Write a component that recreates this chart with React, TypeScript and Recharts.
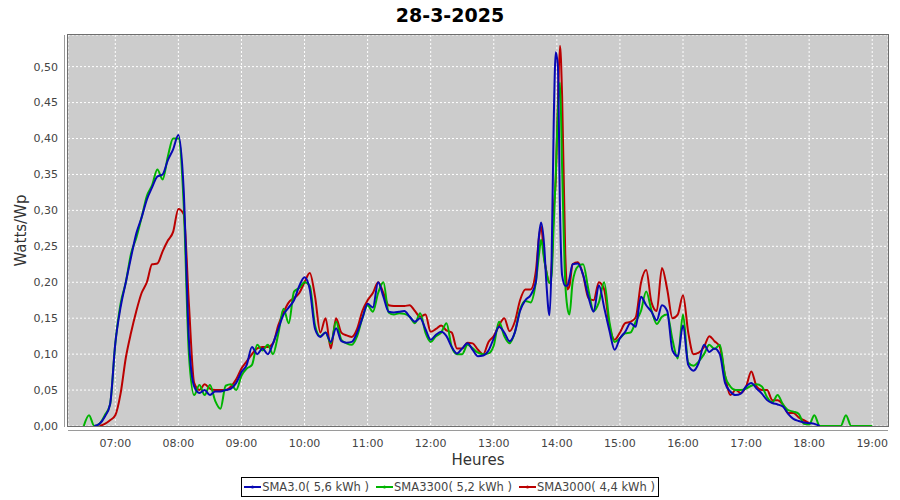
import React from 'react';
import { LineChart, Line, XAxis, YAxis, CartesianGrid, Legend } from 'recharts';

const TITLE = '28-3-2025';
const X_LABEL = 'Heures';
const Y_LABEL = 'Watts/Wp';

const TIMES: string[] = [
  '06:30', '06:35', '06:40', '06:45', '06:50', '06:55',
  '07:00', '07:05', '07:10', '07:15', '07:20', '07:25', '07:30', '07:35', '07:40', '07:45', '07:50', '07:55',
  '08:00', '08:05', '08:10', '08:15', '08:20', '08:25', '08:30', '08:35', '08:40', '08:45', '08:50', '08:55',
  '09:00', '09:05', '09:10', '09:15', '09:20', '09:25', '09:30', '09:35', '09:40', '09:45', '09:50', '09:55',
  '10:00', '10:05', '10:10', '10:15', '10:20', '10:25', '10:30', '10:35', '10:40', '10:45', '10:50', '10:55',
  '11:00', '11:05', '11:10', '11:15', '11:20', '11:25', '11:30', '11:35', '11:40', '11:45', '11:50', '11:55',
  '12:00', '12:05', '12:10', '12:15', '12:20', '12:25', '12:30', '12:35', '12:40', '12:45', '12:50', '12:55',
  '13:00', '13:05', '13:10', '13:15', '13:20', '13:25', '13:30', '13:35', '13:40', '13:43', '13:45', '13:48', '13:50', '13:53', '13:55', '13:57', '13:59',
  '14:01', '14:03', '14:05', '14:08', '14:10', '14:12', '14:15', '14:20', '14:25', '14:30', '14:35', '14:40', '14:45', '14:50', '14:55',
  '15:00', '15:05', '15:10', '15:15', '15:20', '15:25', '15:30', '15:35', '15:40', '15:45', '15:50', '15:55',
  '16:00', '16:05', '16:10', '16:15', '16:20', '16:25', '16:30', '16:35', '16:40', '16:45', '16:50', '16:55',
  '17:00', '17:05', '17:10', '17:15', '17:20', '17:25', '17:30', '17:35', '17:40', '17:45', '17:50', '17:55',
  '18:00', '18:05', '18:10', '18:15', '18:20', '18:25', '18:30', '18:35', '18:40', '18:45', '18:50', '18:55',
  '19:00',
];

const SMA30: (number | null)[] = [
  null, null, 0, 0.003, 0.013, 0.03,
  0.115, 0.165, 0.2, 0.235, 0.268, 0.29, 0.315, 0.332, 0.347, 0.35, 0.37, 0.385,
  0.405, 0.33, 0.12, 0.055, 0.046, 0.05, 0.043, 0.048, 0.048, 0.05, 0.052, 0.06,
  0.075, 0.085, 0.11, 0.1, 0.108, 0.1, 0.115, 0.135, 0.155, 0.165, 0.175, 0.195,
  0.207, 0.19, 0.135, 0.124, 0.13, 0.117, 0.136, 0.118, 0.116, 0.117, 0.13, 0.15,
  0.17, 0.165, 0.2, 0.18, 0.159, 0.158, 0.159, 0.16, 0.152, 0.145, 0.15, 0.135,
  0.12, 0.127, 0.131, 0.125, 0.11, 0.101, 0.108, 0.115, 0.106, 0.097, 0.098, 0.105,
  0.122, 0.138, 0.13, 0.118, 0.13, 0.16, 0.175, 0.182, 0.2, 0.265, 0.283, 0.25, 0.2, 0.154, 0.23, 0.42, 0.52,
  0.5, 0.3, 0.21, 0.195, 0.195, 0.205, 0.225, 0.226, 0.21, 0.18, 0.159, 0.196, 0.165, 0.133, 0.106,
  0.122, 0.131, 0.143, 0.138, 0.18, 0.168, 0.159, 0.147, 0.168, 0.16, 0.105, 0.097,
  0.14, 0.085, 0.077, 0.088, 0.113, 0.103, 0.108, 0.1, 0.06, 0.048, 0.043, 0.045,
  0.055, 0.06, 0.052, 0.045, 0.036, 0.032, 0.03, 0.027, 0.017, 0.01, 0.007, 0.005,
  0.004, 0.003, 0, null, null, null, null, null, null, null, null, null,
  null,
];

const SMA3300: (number | null)[] = [
  0, 0.015, 0, 0.003, 0.015, 0.03,
  0.115, 0.17, 0.2, 0.24, 0.262, 0.29, 0.32, 0.335, 0.357, 0.343, 0.375, 0.4,
  0.4, 0.31, 0.1, 0.043, 0.057, 0.043, 0.057, 0.035, 0.024, 0.056, 0.058, 0.05,
  0.07, 0.08, 0.085, 0.113, 0.105, 0.113, 0.1, 0.128, 0.163, 0.143, 0.187, 0.192,
  0.2, 0.195, 0.14, 0.125, 0.13, 0.115, 0.145, 0.12, 0.115, 0.113, 0.125, 0.15,
  0.168, 0.159, 0.185, 0.2, 0.158, 0.155, 0.157, 0.156, 0.152, 0.143, 0.157, 0.13,
  0.117, 0.125, 0.13, 0.143, 0.11, 0.1, 0.1, 0.113, 0.108, 0.102, 0.1, 0.101,
  0.112, 0.145, 0.125, 0.115, 0.13, 0.162, 0.174, 0.172, 0.2, 0.238, 0.259, 0.231, 0.215, 0.199, 0.21, 0.28, 0.35,
  0.44, 0.478, 0.36, 0.2, 0.165, 0.155, 0.2, 0.222, 0.225, 0.19, 0.16, 0.172, 0.2, 0.145, 0.117,
  0.122, 0.129, 0.13, 0.145, 0.16, 0.187, 0.161, 0.142, 0.152, 0.155, 0.12, 0.094,
  0.155, 0.088, 0.084, 0.09, 0.1, 0.113, 0.107, 0.113, 0.07, 0.055, 0.05, 0.05,
  0.052, 0.056, 0.058, 0.055, 0.04, 0.033, 0.043, 0.03, 0.022, 0.02, 0.017, 0.003,
  0.002, 0.015, 0, 0, 0, 0, 0, 0.015, 0, 0, 0, 0,
  0,
];

const SMA3000: (number | null)[] = [
  null, null, null, 0, 0.003, 0.008,
  0.015, 0.045, 0.095, 0.13, 0.16, 0.185, 0.2, 0.225, 0.226, 0.243, 0.258, 0.27,
  0.302, 0.295, 0.17, 0.06, 0.05, 0.058, 0.052, 0.05, 0.05, 0.05, 0.055, 0.065,
  0.08, 0.09, 0.1, 0.108, 0.11, 0.11, 0.115, 0.14, 0.158, 0.172, 0.178, 0.185,
  0.2, 0.213, 0.18, 0.13, 0.15, 0.108, 0.15, 0.13, 0.126, 0.124, 0.135, 0.16,
  0.175, 0.185, 0.2, 0.185, 0.168, 0.167, 0.167, 0.167, 0.168, 0.16, 0.152, 0.155,
  0.131, 0.135, 0.14, 0.133, 0.13, 0.108, 0.108, 0.116, 0.115, 0.106, 0.1, 0.117,
  0.125, 0.14, 0.15, 0.132, 0.145, 0.175, 0.19, 0.19, 0.215, 0.262, 0.278, 0.234, 0.215, 0.199, 0.22, 0.3, 0.343,
  0.45, 0.529, 0.46, 0.24, 0.19, 0.195, 0.225, 0.228, 0.21, 0.178, 0.175, 0.2, 0.19, 0.14, 0.12,
  0.13, 0.143, 0.145, 0.151, 0.199, 0.217, 0.172, 0.16, 0.22, 0.19, 0.15, 0.155,
  0.182, 0.13, 0.1, 0.102, 0.11, 0.125, 0.118, 0.11, 0.07, 0.043, 0.05, 0.046,
  0.055, 0.076, 0.055, 0.05, 0.05, 0.036, 0.036, 0.03, 0.018, 0.018, 0.012, 0.008,
  0.004, null, null, null, null, null, null, null, null, null, null, null,
  null,
];

const X_TICKS: string[] = ['07:00', '08:00', '09:00', '10:00', '11:00', '12:00', '13:00', '14:00', '15:00', '16:00', '17:00', '18:00', '19:00'];
const Y_TICKS: number[] = [0, 0.05, 0.1, 0.15, 0.2, 0.25, 0.3, 0.35, 0.4, 0.45, 0.5];
const X_DOMAIN: [number, number] = [375, 1155];
const Y_DOMAIN: [number, number] = [0, 0.544];

const SERIES = [
  { key: 'sma30', name: 'SMA3.0( 5,6 kWh )', color: '#0808b4' },
  { key: 'sma3300', name: 'SMA3300( 5,2 kWh )', color: '#00b400' },
  { key: 'sma3000', name: 'SMA3000( 4,4 kWh )', color: '#bb0000' },
];

const toMin = (s: string) => {
  const [h, m] = s.split(':').map(Number);
  return h * 60 + m;
};
const fmtTime = (v: number) => {
  const h = Math.floor(v / 60);
  const m = Math.round(v % 60);
  return `${String(h).padStart(2, '0')}:${String(m).padStart(2, '0')}`;
};

const data = TIMES.map((t, i) => ({
  t: toMin(t),
  sma30: SMA30[i],
  sma3300: SMA3300[i],
  sma3000: SMA3000[i],
}));

const FONT = '"DejaVu Sans", Verdana, sans-serif';

const renderLegend = () => (
  <div style={{ display: 'flex', justifyContent: 'center', fontFamily: FONT }}>
    <div
      style={{
        display: 'inline-flex',
        alignItems: 'center',
        border: '1px solid #000',
        background: '#fff',
        height: 20,
        padding: '0 3px 0 2px',
        boxSizing: 'border-box',
        fontSize: 11.5,
        color: '#444',
        whiteSpace: 'nowrap',
      }}
    >
      {SERIES.map((s, i) => (
        <span key={s.key} style={{ display: 'inline-flex', alignItems: 'center', marginLeft: i === 0 ? 0 : 7 }}>
          <svg width={17} height={6} style={{ display: 'block' }}>
            <line x1={0} y1={3} x2={17} y2={3} stroke={s.color} strokeWidth={2} />
            <circle cx={8.5} cy={3} r={1.5} fill={s.color} />
          </svg>
          <span style={{ marginLeft: 1 }}>{s.name}</span>
        </span>
      ))}
    </div>
  </div>
);

const renderXLabel = (p: any) => {
  const vb = p.viewBox || { x: 68, y: 426, width: 820, height: 30 };
  return (
    <text x={vb.x + vb.width / 2} y={465} textAnchor="middle" fontSize={15} fill="#333" fontFamily={FONT}>
      {X_LABEL}
    </text>
  );
};

const renderYLabel = (p: any) => {
  const vb = p.viewBox || { x: 0, y: 35, width: 68, height: 391 };
  const cy = vb.y + vb.height / 2;
  return (
    <text x={26} y={cy} transform={`rotate(-90, 26, ${cy})`} textAnchor="middle" fontSize={15} fill="#333" fontFamily={FONT}>
      {Y_LABEL}
    </text>
  );
};

export default function App() {
  const drawOrder = [...SERIES].reverse();
  return (
    <div style={{ position: 'absolute', left: 0, top: 0, width: 900, height: 500, background: '#fff', fontFamily: FONT }}>
      <div
        style={{
          position: 'absolute',
          top: 3,
          left: 0,
          width: 900,
          textAlign: 'center',
          fontSize: 19,
          fontWeight: 'bold',
          lineHeight: '24px',
          color: '#000',
        }}
      >
        {TITLE}
      </div>
      <div style={{ position: 'absolute', left: 0, top: 0 }}>
        <LineChart width={900} height={500} data={data} margin={{ top: 35, right: 12, bottom: 44, left: 0 }}>
          <CartesianGrid fill="#cccccc" stroke="#ffffff" strokeDasharray="2 2" strokeWidth={1} />
          <XAxis
            dataKey="t"
            type="number"
            domain={X_DOMAIN}
            allowDataOverflow
            ticks={X_TICKS.map(toMin)}
            tickFormatter={fmtTime}
            axisLine={false}
            tickLine={false}
            tickSize={6}
            tickMargin={7}
            height={30}
            tick={{ fill: '#444', fontSize: 11, fontFamily: FONT }}
            label={renderXLabel}
          />
          <YAxis
            type="number"
            domain={Y_DOMAIN}
            allowDataOverflow
            ticks={Y_TICKS}
            tickFormatter={(v: number) => v.toFixed(2).replace('.', ',')}
            axisLine={false}
            tickLine={false}
            tickSize={6}
            tickMargin={4}
            width={68}
            tick={{ fill: '#444', fontSize: 11, fontFamily: FONT }}
            label={renderYLabel}
          />
          <Legend
            layout="horizontal"
            verticalAlign="middle"
            align="center"
            wrapperStyle={{ top: 477, left: 0, width: 900 }}
            content={renderLegend}
          />
          {drawOrder.map((s) => (
            <Line
              key={s.key}
              type="monotone"
              dataKey={s.key}
              name={s.name}
              stroke={s.color}
              strokeWidth={2}
              dot={false}
              activeDot={false}
              isAnimationActive={false}
              connectNulls={false}
            />
          ))}
        </LineChart>
      </div>
      <div
        style={{
          position: 'absolute',
          left: 67,
          top: 34,
          width: 822,
          height: 393,
          border: '1px solid #6e6e6e',
          boxSizing: 'border-box',
          pointerEvents: 'none',
        }}
      />
      <div style={{ position: 'absolute', left: 64, top: 35, width: 1, height: 392, background: '#9a9a9a' }} />
      <div style={{ position: 'absolute', left: 68, top: 430, width: 820, height: 1, background: '#9a9a9a' }} />
    </div>
  );
}
